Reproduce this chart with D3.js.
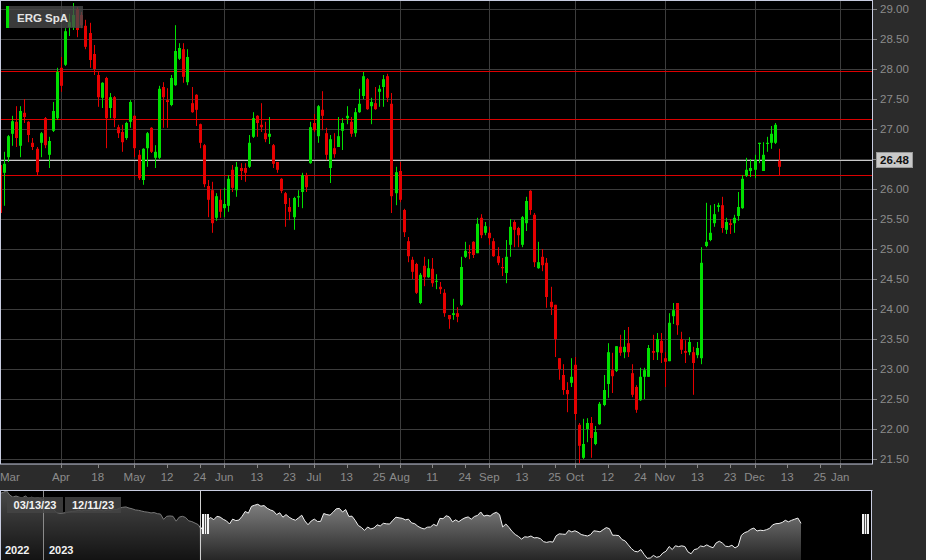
<!DOCTYPE html>
<html><head><meta charset="utf-8">
<script src="https://cdn.jsdelivr.net/npm/d3@7"></script>
<style>html,body{margin:0;padding:0;background:#2b2b2b;overflow:hidden}svg{display:block}text{font-family:"Liberation Sans",Arial,sans-serif}</style>
</head><body><svg id="c" width="926" height="560"></svg>
<script>
const title = "ERG SpA";
const startDate = "2023-03-13";
const holidays = ["2023-04-07","2023-04-10","2023-05-01","2023-08-15"];

const opens = [26.40,26.27,26.53,26.92,27.12,26.72,27.27,27.12,26.77,26.67,26.77,27.18,26.57,26.97,27.18,28.02,28.07,28.70,28.70,29.00,
28.90,28.72,28.60,28.25,27.90,27.52,27.85,27.35,27.53,27.03,26.95,26.85,27.12,27.22,26.57,26.15,26.68,27.02,26.52,26.52,
27.70,27.48,27.40,27.73,28.17,28.33,27.78,27.43,27.57,27.08,26.73,26.05,25.98,25.52,25.82,25.68,25.72,26.32,25.98,26.35,
26.35,26.37,26.87,27.22,27.07,26.93,26.87,26.73,26.45,26.17,25.93,25.70,25.53,25.86,25.95,26.23,26.43,27.10,26.88,27.32,
26.93,26.35,26.68,26.70,26.97,27.18,27.12,26.93,27.28,27.55,27.83,27.38,27.43,27.62,27.70,27.88,27.42,25.93,26.30,25.65,
25.13,24.82,24.75,24.10,24.72,24.53,24.67,24.46,24.37,24.27,23.90,23.90,23.93,24.07,24.87,24.95,25.12,24.93,25.52,25.27,
25.27,25.13,24.88,24.70,24.60,25.07,25.45,25.35,25.07,25.43,25.97,25.57,24.68,24.87,24.77,24.12,24.07,23.18,22.90,22.65,
22.77,23.07,22.07,21.52,22.00,22.10,21.75,22.08,22.40,22.75,22.98,22.97,23.37,23.28,23.43,22.93,22.70,22.48,22.87,22.87,
23.30,23.28,23.47,23.18,23.13,23.88,24.10,23.50,23.30,23.28,23.28,23.23,23.18,25.05,25.15,25.43,25.70,25.73,25.32,25.43,
25.43,25.55,25.68,26.22,26.30,26.32,26.75,26.30,26.75,26.77,26.77,26.47];
const highs = [26.45,26.62,26.90,27.22,27.38,27.38,27.50,27.13,26.85,26.70,26.95,27.20,26.87,27.45,28.02,28.20,28.68,28.92,29.10,29.03,
28.95,28.82,28.77,28.40,27.95,27.78,27.87,27.60,27.55,27.07,27.07,27.12,27.48,27.23,26.65,26.68,26.95,27.03,26.73,27.72,
27.78,27.68,27.90,28.73,28.43,28.43,28.33,27.70,27.58,27.09,26.75,26.15,26.12,25.93,26.00,26.02,26.23,26.40,26.45,26.43,
26.43,26.90,27.28,27.23,27.43,27.12,27.20,26.75,26.45,26.18,25.95,25.85,25.87,25.98,26.27,26.27,27.12,27.25,27.40,27.63,
27.02,26.90,26.93,27.20,27.18,27.38,27.20,27.35,27.67,27.95,27.85,27.52,27.70,27.73,27.90,27.92,27.60,26.37,26.45,25.67,
25.20,24.87,24.77,24.60,24.87,24.83,24.85,24.58,24.45,24.33,23.90,24.17,24.03,24.87,25.12,25.07,25.13,25.52,25.58,25.45,
25.37,25.18,25.03,24.85,25.15,25.50,25.48,25.37,25.55,25.87,25.98,25.60,25.12,25.00,24.85,24.37,24.07,23.18,23.08,22.78,
23.18,23.20,22.10,22.17,22.18,22.20,22.05,22.45,22.90,23.43,23.27,23.38,23.57,23.65,23.70,23.08,22.73,23.02,23.02,23.40,
23.57,23.60,23.60,23.28,23.93,24.10,24.10,23.62,23.48,23.53,23.37,23.45,25.03,25.77,25.73,25.75,25.77,25.87,25.52,25.50,
25.57,25.95,26.23,26.52,26.50,26.57,26.77,26.78,26.87,27.05,27.10,26.67];
const lows = [25.57,25.72,26.45,26.72,26.70,26.53,27.10,26.78,26.65,26.23,26.53,26.68,26.35,26.95,27.15,27.62,28.05,28.55,28.65,28.53,
28.68,28.33,28.02,27.90,27.37,27.35,26.68,27.18,27.03,26.85,26.62,26.82,27.02,26.53,26.15,26.07,26.37,26.60,26.35,26.50,
27.02,27.02,27.38,27.72,28.15,27.77,27.73,27.27,27.05,26.68,26.03,25.53,25.27,25.47,25.52,25.53,25.62,25.95,25.87,26.15,
26.12,26.35,26.85,26.87,26.95,26.78,26.75,26.35,26.27,25.93,25.37,25.48,25.32,25.70,25.68,25.95,26.42,26.95,26.77,26.98,
26.48,26.10,26.52,26.70,26.65,27.08,26.87,26.87,27.27,27.50,27.32,27.08,27.32,27.37,27.37,27.45,25.60,25.73,25.78,25.20,
24.78,24.50,24.25,24.08,24.38,24.52,24.37,24.33,24.25,23.87,23.67,23.82,23.78,24.05,24.85,24.83,24.85,24.93,25.18,25.23,
25.07,24.87,24.73,24.55,24.43,24.87,25.03,25.03,25.03,25.30,25.57,24.70,24.67,24.63,24.02,23.90,23.20,22.82,22.57,22.28,
22.70,22.15,21.43,21.50,21.78,21.52,21.73,22.07,22.38,22.52,22.60,22.95,23.22,23.18,23.20,22.53,22.27,22.47,22.50,22.87,
23.15,23.15,23.10,22.70,23.13,23.75,23.57,23.25,23.10,23.23,22.57,23.18,23.08,25.03,25.13,25.37,25.62,25.27,25.25,25.25,
25.27,25.47,25.67,26.20,26.20,26.18,26.43,26.30,26.62,26.67,26.75,26.23];
const closes = [25.60,26.42,26.88,27.13,26.85,27.30,27.20,26.90,26.70,26.28,26.93,26.73,26.80,27.30,27.95,27.72,28.63,28.78,28.90,28.65,
28.73,28.37,28.15,28.00,27.53,27.77,27.18,27.53,27.18,26.93,26.78,27.10,27.45,26.68,26.18,26.67,26.93,26.62,26.62,27.67,
27.53,27.45,27.85,28.30,28.35,27.87,28.20,27.28,27.32,26.77,26.08,25.82,25.43,25.88,25.62,25.75,26.17,26.02,26.37,26.30,
26.27,26.77,27.18,27.10,27.03,26.83,26.92,26.42,26.32,25.97,25.75,25.62,25.85,25.88,26.23,26.03,27.03,26.98,27.38,27.22,
26.57,26.83,26.58,26.88,27.10,27.22,26.92,27.28,27.42,27.88,27.33,27.45,27.33,27.67,27.83,27.52,25.88,26.28,25.82,25.28,
24.88,24.62,24.27,24.57,24.53,24.68,24.43,24.47,24.33,23.93,23.83,23.93,23.87,24.70,24.97,24.93,24.90,25.42,25.23,25.38,
25.18,24.88,24.77,24.68,24.87,25.37,25.32,25.23,25.53,25.80,25.65,24.78,24.78,24.73,24.20,24.03,23.50,23.00,22.65,22.58,
22.87,22.25,21.72,21.75,22.10,21.85,21.95,22.42,22.65,23.28,22.88,23.38,23.27,23.37,23.28,22.57,22.32,22.87,22.98,23.35,
23.27,23.50,23.27,23.12,23.77,23.98,23.73,23.32,23.27,23.45,23.10,23.35,24.77,25.12,25.27,25.58,25.73,25.35,25.45,25.40,
25.52,25.70,26.17,26.32,26.35,26.48,26.77,26.57,26.77,26.92,27.07,26.37];

const yTicks = [21.5,22,22.5,23,23.5,24,24.5,25,25.5,26,26.5,27,27.5,28,28.5,29];
const tickDates = ["2023-04-03","2023-04-18","2023-05-02","2023-05-12","2023-05-24","2023-06-01","2023-06-13","2023-06-23",
"2023-07-03","2023-07-13","2023-07-25","2023-08-01","2023-08-11","2023-08-24","2023-09-01","2023-09-13","2023-09-25",
"2023-10-02","2023-10-12","2023-10-24","2023-11-01","2023-11-13","2023-11-23","2023-12-01","2023-12-13","2023-12-25","2024-01-01"];
const tickLabels = ["Apr","18","May","12","24","Jun","13","23","Jul","13","25","Aug","11","24","Sep","13","25","Oct","12","24","Nov","13","23","Dec","13","25","Jan"];
const monthLabels = ["Mar","Apr","May","Jun","Jul","Aug","Sep","Oct","Nov","Dec","Jan"];
const levels = [27.96, 27.16, 26.23];
const lastPrice = 26.48;

const navPreCloses = [30.36,30.5,30.7,30.13,29.85,30.0,29.85,29.75,30.0,29.7,29.85,29.7,29.8,29.6,29.4,29.0,28.6,28.2,27.8,27.7,
27.74,27.8,27.9,27.95,28.0,28.1,28.0,28.15,28.1,28.2,28.1,28.2,28.1,28.0,28.15,28.1,28.25,28.2,28.4,28.5,
28.55,28.4,28.3,28.15,28.1,28.0,27.9,27.85,27.75,27.8,27.65,27.6,26.9,27.3,27.35,27.3,26.65,27.2,27.3,27.15,
26.7,26.6,26.4,26.2];
const navYears = ["2022","2023"];
const navYearBreak = 13.5;
const rangeLabels = ["03/13/23","12/11/23"];

// ---- trading calendar (weekdays minus exchange holidays) ----
const parse = d3.utcParse("%Y-%m-%d"), fmt = d3.utcFormat("%Y-%m-%d");
const days = [];
for (let d = parse(startDate); days.length < 207; d = d3.utcDay.offset(d, 1)) {
  const wd = d.getUTCDay();
  if (wd === 0 || wd === 6) continue;
  if (holidays.includes(fmt(d))) continue;
  days.push(fmt(d));
}
const idxOf = s => days.indexOf(s);

const svg = d3.select("#c");
const W = 926, H = 560;
const P = {l: 1, r: 872, t: 1, b: 464};

const x = d3.scaleLinear().domain([0, 206]).range([-0.19, 840.19]);
const y = d3.scaleLinear().domain([21.5, 29]).range([459, 9]);
const snap = v => Math.round(v) + 0.5;

// backgrounds
svg.append("rect").attr("width", W).attr("height", H).attr("fill", "#2b2b2b");
svg.append("rect").attr("x", 0).attr("y", 0).attr("width", P.r).attr("height", P.b).attr("fill", "#000");

const defs = svg.append("defs");
defs.append("clipPath").attr("id", "clip").append("rect").attr("x", 1).attr("y", 1).attr("width", P.r - 1).attr("height", P.b - 1);

// grid
const grid = svg.append("g").attr("clip-path", "url(#clip)");
yTicks.forEach(v => grid.append("line").attr("x1", 0).attr("x2", P.r).attr("y1", snap(y(v))).attr("y2", snap(y(v)))
  .attr("stroke", "#3c3c3c").attr("stroke-width", 1));
tickDates.forEach((d, k) => {
  if (!monthLabels.includes(tickLabels[k])) return;
  const xx = snap(x(idxOf(d)));
  grid.append("line").attr("x1", xx).attr("x2", xx).attr("y1", 0).attr("y2", P.b).attr("stroke", "#3c3c3c");
});

// levels
levels.forEach(v => grid.append("line").attr("x1", 0).attr("x2", P.r).attr("y1", snap(y(v))).attr("y2", snap(y(v)))
  .attr("stroke", "#dc0000").attr("stroke-width", 1));
grid.append("line").attr("x1", 0).attr("x2", P.r).attr("y1", snap(y(lastPrice))).attr("y2", snap(y(lastPrice)))
  .attr("stroke", "#c8c8c8").attr("stroke-width", 1);

// candles
const cg = svg.append("g").attr("clip-path", "url(#clip)");
opens.forEach((o, i) => {
  const c = closes[i];
  const cx = Math.round(x(i));
  const col = c >= o ? "#00e000" : "#e60000";
  cg.append("line").attr("x1", cx + 0.5).attr("x2", cx + 0.5)
    .attr("y1", y(highs[i])).attr("y2", y(lows[i])).attr("stroke", col).attr("stroke-width", 1);
  const top = y(Math.max(o, c)), bot = y(Math.min(o, c));
  cg.append("rect").attr("x", cx - 1).attr("y", top).attr("width", 3)
    .attr("height", Math.max(1, bot - top)).attr("fill", col);
});

// legend
svg.append("rect").attr("x", 6).attr("y", 6).attr("width", 77).attr("height", 22).attr("fill", "rgba(72,72,72,0.8)");
svg.append("rect").attr("x", 6).attr("y", 6).attr("width", 3).attr("height", 22).attr("fill", "#00e000");
svg.append("text").attr("x", 17).attr("y", 21.5).attr("font-size", 11.5).attr("font-weight", "bold")
  .attr("fill", "#e4e4e4").text(title);

// plot border
svg.append("rect").attr("x", 0.5).attr("y", 0.5).attr("width", P.r).attr("height", P.b - 0.5)
  .attr("fill", "none").attr("stroke", "#c8cce0").attr("stroke-width", 1);

// y axis
const ya = svg.append("g");
yTicks.forEach(v => {
  const yy = snap(y(v));
  ya.append("line").attr("x1", P.r + 1).attr("x2", P.r + 5).attr("y1", yy).attr("y2", yy).attr("stroke", "#888");
  ya.append("text").attr("x", 880).attr("y", y(v) + 4).attr("font-size", 11.5).attr("fill", "#8c8c8c").text(v.toFixed(2));
});
const py = y(lastPrice);
ya.append("rect").attr("x", 876.5).attr("y", Math.round(py) - 7.5).attr("width", 36).attr("height", 15)
  .attr("fill", "#c9c9c9").attr("stroke", "#9a9a9a");
ya.append("text").attr("x", 894.5).attr("y", Math.round(py) + 4).attr("text-anchor", "middle")
  .attr("font-size", 11.5).attr("font-weight", "bold").attr("fill", "#111").text(lastPrice.toFixed(2));

// x axis
const xa = svg.append("g");
xa.append("text").attr("x", 0).attr("y", 481).attr("font-size", 11.5).attr("fill", "#8c8c8c").text("Mar");
tickDates.forEach((d, k) => {
  const xx = x(idxOf(d));
  xa.append("line").attr("x1", snap(xx)).attr("x2", snap(xx)).attr("y1", P.b).attr("y2", P.b + 4).attr("stroke", "#888");
  xa.append("text").attr("x", xx).attr("y", 481).attr("text-anchor", "middle").attr("font-size", 11.5)
    .attr("fill", "#8c8c8c").text(tickLabels[k]);
});

// navigator
const NT = 490, NB = 560;
const navCloses = navPreCloses.concat(closes);
const nx = d3.scaleLinear().domain([0, navCloses.length - 1]).range([0.3, 801]);
const ny = d3.scaleLinear().domain([21.49, 30.8]).range([NB, NT]);
svg.append("rect").attr("x", 0).attr("y", NT).attr("width", P.r).attr("height", NB - NT).attr("fill", "#000");
const grad = defs.append("linearGradient").attr("id", "navg").attr("gradientUnits", "userSpaceOnUse")
  .attr("x1", 0).attr("y1", NT).attr("x2", 0).attr("y2", NB);
grad.append("stop").attr("offset", 0).attr("stop-color", "#949494");
grad.append("stop").attr("offset", 1).attr("stop-color", "#262626");
const area = d3.area().x((d, i) => nx(i)).y0(NB).y1(d => ny(d));
const line = d3.line().x((d, i) => nx(i)).y(d => ny(d));
svg.append("path").datum(navCloses).attr("d", area).attr("fill", "url(#navg)");
svg.append("path").datum(navCloses).attr("d", line).attr("fill", "none").attr("stroke", "#f0f0f0").attr("stroke-width", 1);
const maskX = nx(navPreCloses.length - 0.5);
svg.append("rect").attr("x", 0).attr("y", NT).attr("width", maskX).attr("height", NB - NT).attr("fill", "rgba(0,0,0,0.5)");
svg.append("line").attr("x1", snap(maskX)).attr("x2", snap(maskX)).attr("y1", NT).attr("y2", NB).attr("stroke", "#cfcfcf");
const yb = snap(nx(navYearBreak));
svg.append("line").attr("x1", yb).attr("x2", yb).attr("y1", NT).attr("y2", NB).attr("stroke", "#8a8a8a");
svg.append("text").attr("x", 5).attr("y", 554).attr("font-size", 11).attr("font-weight", "bold").attr("fill", "#f2f2f2").text(navYears[0]);
svg.append("text").attr("x", yb + 5.5).attr("y", 554).attr("font-size", 11).attr("font-weight", "bold").attr("fill", "#f2f2f2").text(navYears[1]);
[7, 65].forEach((bx, k) => {
  svg.append("rect").attr("x", bx).attr("y", 497).attr("width", 56).attr("height", 16).attr("fill", "rgba(68,68,68,0.85)");
  svg.append("text").attr("x", bx + 28).attr("y", 509).attr("text-anchor", "middle").attr("font-size", 11)
    .attr("font-weight", "bold").attr("fill", "#f2f2f2").text(rangeLabels[k]);
});
// frame
svg.append("line").attr("x1", 0).attr("x2", P.r + 0.5).attr("y1", NT + 0.5).attr("y2", NT + 0.5).attr("stroke", "#c8cce0");
svg.append("line").attr("x1", 0.5).attr("x2", 0.5).attr("y1", NT).attr("y2", NB).attr("stroke", "#c8cce0");
svg.append("line").attr("x1", 871.5).attr("x2", 871.5).attr("y1", NT).attr("y2", NB).attr("stroke", "#c8cce0");
// handles
[maskX + 5, 865].forEach(hx => {
  const h = svg.append("g").attr("transform", `translate(${Math.round(hx) - 3},514)`);
  h.append("rect").attr("width", 7).attr("height", 20).attr("fill", "#f4f4f4");
  h.append("rect").attr("x", 2).attr("width", 1).attr("height", 20).attr("fill", "#555");
  h.append("rect").attr("x", 4).attr("width", 1).attr("height", 20).attr("fill", "#555");
});
</script></body></html>
